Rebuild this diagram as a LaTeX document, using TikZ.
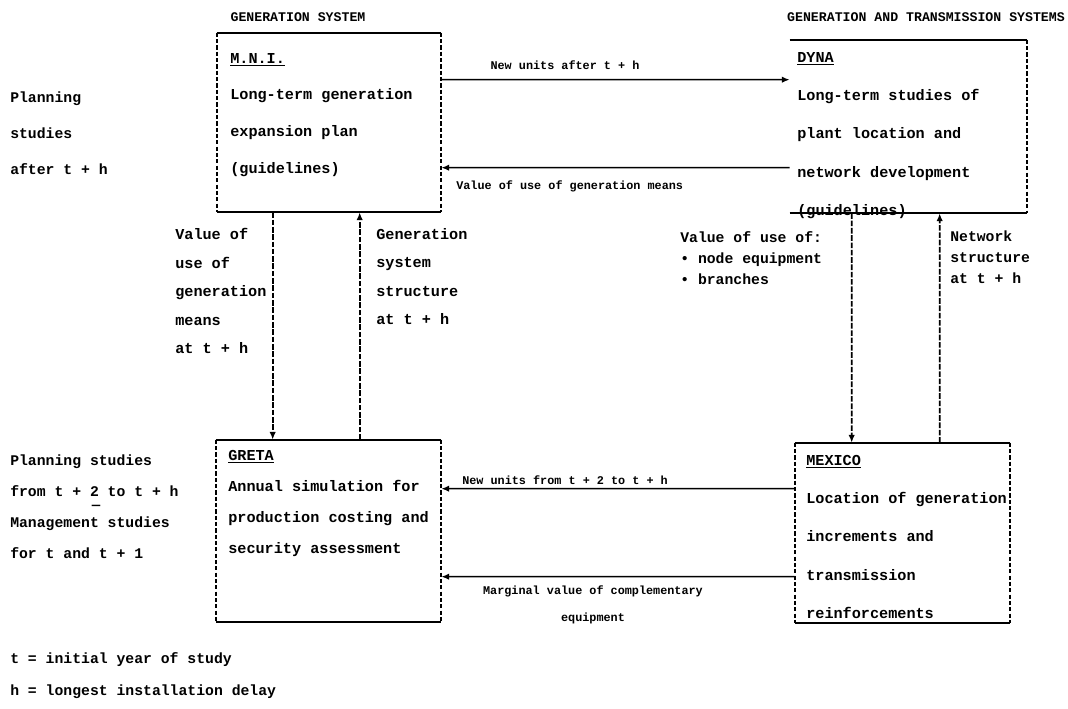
\documentclass[tikz,border=0pt]{standalone}
\usepackage{fontspec}
\setmainfont{Liberation Mono}
\usetikzlibrary{arrows.meta,calc}

\tikzset{
  box/.style={rectangle, inner sep=0pt},
  rule/.style={line width=1.3pt},
  side/.style={line width=1.3pt, dash pattern=on 3pt off 1.5pt},
  flow/.style={line width=1.1pt, -{Latex[length=5.5pt,width=4.5pt]}},
  link/.style={line width=1.2pt, dash pattern=on 4pt off 1.2pt, -{Latex[length=5.5pt,width=4.5pt]}},
  txt/.style={inner sep=0pt, anchor=north west, align=left},
  lbl/.style={inner sep=0pt, font=\fontsize{8.4}{10}\selectfont\bfseries},
  head/.style={inner sep=0pt, font=\fontsize{9.4}{11}\selectfont\bfseries},
}

\begin{document}
\begin{tikzpicture}[x=0.025cm, y=-0.025cm]
\useasboundingbox (0,0) rectangle (1068,709);

% titles
\node[head] (gentitle) at (298,17) {GENERATION SYSTEM};
\node[head] (transtitle) at (926,17) {GENERATION AND TRANSMISSION SYSTEMS};

% the four models
\node[box, minimum width=5.6cm, minimum height=4.475cm] (mni) at (329,122.5) {};
\node[box, minimum width=5.925cm, minimum height=4.325cm] (dyna) at (908.5,126.5) {};
\node[box, minimum width=5.625cm, minimum height=4.55cm] (greta) at (328.5,531) {};
\node[box, minimum width=5.375cm, minimum height=4.5cm] (mexico) at (902.5,533) {};

\foreach \b in {mni,dyna,greta,mexico}
  \draw[rule] (\b.north west) -- (\b.north east) (\b.south west) -- (\b.south east);
\foreach \b in {mni,greta,mexico}
  \draw[side] (\b.north west) -- (\b.south west);
\foreach \b in {mni,dyna,greta,mexico}
  \draw[side] (\b.north east) -- (\b.south east);

\node[txt, font=\fontsize{10.8}{26.1}\selectfont\bfseries] (mnitext) at (230,53)
  {\underline{M.N.I.}\\Long-term generation\\expansion plan\\(guidelines)};
\node[txt, font=\fontsize{10.8}{27.2}\selectfont\bfseries] (dynatext) at (797,52)
  {\underline{DYNA}\\Long-term studies of\\plant location and\\network development\\(guidelines)};
\node[txt, font=\fontsize{10.8}{22}\selectfont\bfseries] (gretatext) at (228,450)
  {\underline{GRETA}\\Annual simulation for\\production costing and\\security assessment};
\node[txt, font=\fontsize{10.8}{27.2}\selectfont\bfseries] (mexicotext) at (806,455)
  {\underline{MEXICO}\\Location of generation\\increments and\\transmission\\reinforcements};

% horizontal flows
\draw[flow] ($(mni.north east)+(0,47)$) -- ($(dyna.north west)+(0,40)$);
\draw[flow] ($(dyna.north west)+(0,128)$) -- ($(mni.north east)+(0,135)$);
\draw[flow] ($(mexico.north west)+(0,46)$) -- ($(greta.north east)+(0,49)$);
\draw[flow] ($(mexico.north west)+(0,134)$) -- ($(greta.north east)+(0,137)$);

\node[lbl] (newafter) at (565,65) {New units after t + h};
\node[lbl, anchor=west] (valuegen) at (456,186) {Value of use of generation means};
\node[lbl, anchor=west] (newfrom) at (462,480) {New units from t + 2 to t + h};
\node[lbl, align=center, font=\fontsize{8.4}{19.2}\selectfont\bfseries] (marginal) at (593,605)
  {Marginal value of complementary\\equipment};

% vertical links
\draw[link] ($(mni.south west)+(56,0)$) -- ($(greta.north west)+(57,0)$);
\draw[link] ($(greta.north west)+(144,0)$) -- ($(mni.south west)+(143,0)$);
\draw[link] ($(dyna.south west)+(62,0)$) -- ($(mexico.north west)+(57,0)$);
\draw[link] ($(mexico.north west)+(145,0)$) -- ($(dyna.south west)+(150,0)$);

\node[txt, font=\fontsize{10.8}{20.3}\selectfont\bfseries] (valuemeans) at (175,228)
  {Value of\\use of\\generation\\means\\at t + h};
\node[txt, font=\fontsize{10.8}{20.3}\selectfont\bfseries] (genstruct) at (376,228)
  {Generation\\system\\structure\\at t + h};
\node[txt, font=\fontsize{10.5}{14.9}\selectfont\bfseries] (valuenode) at (680,231)
  {Value of use of:\\\textbullet\ node equipment\\\textbullet\ branches};
\node[txt, font=\fontsize{10.5}{14.9}\selectfont\bfseries] (netstruct) at (950,231)
  {Network\\structure\\at t + h};

% study horizons and notes
\node[txt, font=\fontsize{10.5}{25.3}\selectfont\bfseries] (longstudies) at (10,92)
  {Planning\\studies\\after t + h};
\node[txt, font=\fontsize{10.5}{22}\selectfont\bfseries] (shortstudies) at (10,455)
  {Planning studies\\from t + 2 to t + h\\Management studies\\for t and t + 1};
\node[lbl, font=\fontsize{10}{10}\selectfont\bfseries] (sep) at (96,507) {---};
\node[txt, font=\fontsize{10.5}{22.8}\selectfont\bfseries] (notes) at (10,652)
  {t = initial year of study\\h = longest installation delay};
\end{tikzpicture}
\end{document}
